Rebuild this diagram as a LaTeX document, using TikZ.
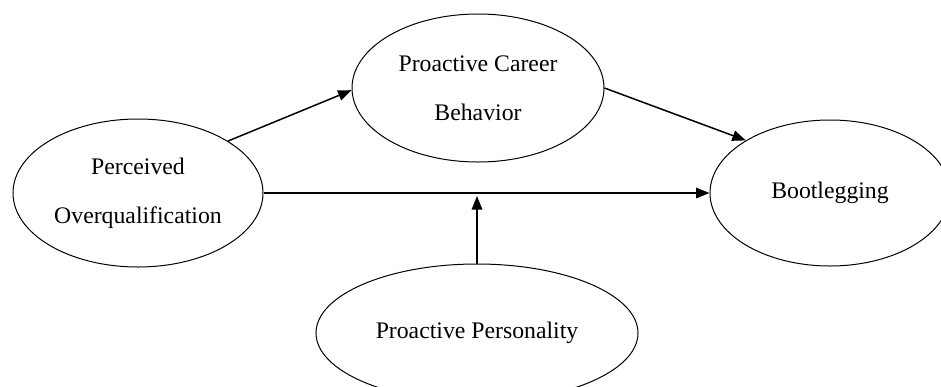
\documentclass[tikz,border=0pt]{standalone}
\usepackage{fontspec}
\setmainfont{Liberation Serif}
\usetikzlibrary{shapes.geometric, arrows.meta}
\begin{document}
\begin{tikzpicture}[x=0.4pt, y=-0.4pt,
	construct/.style={draw, ellipse, inner sep=0pt, line width=0.4pt, align=center,
		font=\fontsize{9.5}{19.5}\selectfont},
	path/.style={line width=0.6pt, -{Triangle[length=5.4pt, width=4.2pt]}}]
	\useasboundingbox (0, 0) rectangle (941, 387);
	\node[construct, minimum width=100pt, minimum height=59.2pt] (overqual) at (138, 193) {Perceived\\Overqualification};
	\node[construct, minimum width=100.8pt, minimum height=59.2pt] (career) at (478, 88) {Proactive Career\\Behavior};
	\node[construct, minimum width=96pt, minimum height=58.4pt] (bootleg) at (830, 193) {Bootlegging};
	\node[construct, minimum width=128.8pt, minimum height=55.2pt] (personality) at (477, 333) {Proactive Personality};
	\coordinate (mod) at (personality.north |- overqual.east);
	\draw[path] (overqual.30) -- (career.181);
	\draw[path] (career.east) -- (bootleg.148);
	\draw[path] (overqual.east) -- (bootleg.west);
	\draw[path, shorten >=1.2pt] (personality.north) -- (mod);
    \end{tikzpicture}
\end{document}
